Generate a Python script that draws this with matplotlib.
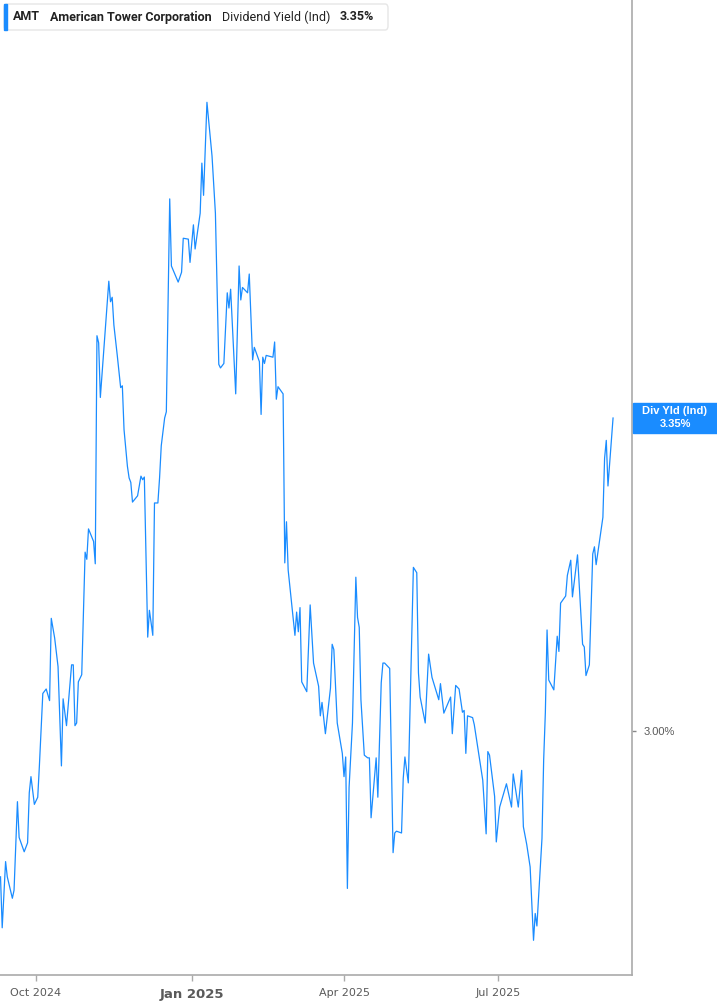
import matplotlib
matplotlib.use("Agg")
import matplotlib.pyplot as plt
from matplotlib.patches import FancyBboxPatch, Rectangle
import pandas as pd

# AMT dividend yield (Ind), %
dates = [
    "2024-09-10", "2024-09-11", "2024-09-13", "2024-09-14", "2024-09-17", "2024-09-18",
    "2024-09-20", "2024-09-21", "2024-09-24", "2024-09-26", "2024-09-27", "2024-09-28",
    "2024-09-30", "2024-10-02", "2024-10-03", "2024-10-05", "2024-10-07", "2024-10-09",
    "2024-10-10", "2024-10-12", "2024-10-14", "2024-10-16", "2024-10-17", "2024-10-19",
    "2024-10-22", "2024-10-23", "2024-10-24", "2024-10-25", "2024-10-26", "2024-10-28",
    "2024-10-30", "2024-10-31", "2024-11-01", "2024-11-04", "2024-11-05", "2024-11-06",
    "2024-11-07", "2024-11-08", "2024-11-13", "2024-11-14", "2024-11-15", "2024-11-16",
    "2024-11-18", "2024-11-20", "2024-11-21", "2024-11-22", "2024-11-24", "2024-11-25",
    "2024-11-26", "2024-11-27", "2024-11-30", "2024-12-02", "2024-12-03", "2024-12-04",
    "2024-12-06", "2024-12-07", "2024-12-09", "2024-12-10", "2024-12-12", "2024-12-13",
    "2024-12-14", "2024-12-16", "2024-12-17", "2024-12-19", "2024-12-20", "2024-12-24",
    "2024-12-26", "2024-12-27", "2024-12-30", "2024-12-31", "2025-01-02", "2025-01-03",
    "2025-01-06", "2025-01-07", "2025-01-08", "2025-01-10", "2025-01-13", "2025-01-15",
    "2025-01-17", "2025-01-18", "2025-01-20", "2025-01-22", "2025-01-23", "2025-01-24",
    "2025-01-27", "2025-01-29", "2025-01-30", "2025-01-31", "2025-02-03", "2025-02-04",
    "2025-02-06", "2025-02-07", "2025-02-10", "2025-02-11", "2025-02-12", "2025-02-13",
    "2025-02-14", "2025-02-18", "2025-02-19", "2025-02-20", "2025-02-21", "2025-02-24",
    "2025-02-25", "2025-02-26", "2025-02-27", "2025-03-03", "2025-03-04", "2025-03-05",
    "2025-03-06", "2025-03-07", "2025-03-10", "2025-03-12", "2025-03-14", "2025-03-17",
    "2025-03-18", "2025-03-19", "2025-03-21", "2025-03-24", "2025-03-25", "2025-03-26",
    "2025-03-28", "2025-03-31", "2025-04-01", "2025-04-02", "2025-04-03", "2025-04-04",
    "2025-04-06", "2025-04-08", "2025-04-09", "2025-04-10", "2025-04-11", "2025-04-13",
    "2025-04-15", "2025-04-16", "2025-04-17", "2025-04-20", "2025-04-21", "2025-04-23",
    "2025-04-24", "2025-04-25", "2025-04-28", "2025-04-30", "2025-05-01", "2025-05-02",
    "2025-05-05", "2025-05-06", "2025-05-07", "2025-05-09", "2025-05-12", "2025-05-14",
    "2025-05-15", "2025-05-16", "2025-05-19", "2025-05-21", "2025-05-23", "2025-05-27",
    "2025-05-28", "2025-05-30", "2025-06-01", "2025-06-03", "2025-06-04", "2025-06-06",
    "2025-06-08", "2025-06-10", "2025-06-11", "2025-06-12", "2025-06-13", "2025-06-16",
    "2025-06-17", "2025-06-19", "2025-06-22", "2025-06-24", "2025-06-25", "2025-06-26",
    "2025-06-29", "2025-06-30", "2025-07-02", "2025-07-06", "2025-07-09", "2025-07-10",
    "2025-07-13", "2025-07-15", "2025-07-16", "2025-07-18", "2025-07-20", "2025-07-22",
    "2025-07-23", "2025-07-24", "2025-07-27", "2025-07-28", "2025-07-29", "2025-07-30",
    "2025-07-31", "2025-08-03", "2025-08-05", "2025-08-06", "2025-08-07", "2025-08-10",
    "2025-08-11", "2025-08-13", "2025-08-14", "2025-08-17", "2025-08-20", "2025-08-21",
    "2025-08-22", "2025-08-24", "2025-08-26", "2025-08-27", "2025-08-28", "2025-09-01",
    "2025-09-02", "2025-09-03", "2025-09-04", "2025-09-07",
]
yields = [
    2.837, 2.780, 2.854, 2.837, 2.813, 2.822,
    2.921, 2.881, 2.865, 2.875, 2.931, 2.949,
    2.918, 2.926, 2.962, 3.042, 3.047, 3.034,
    3.126, 3.104, 3.072, 2.961, 3.036, 3.006,
    3.074, 3.074, 3.006, 3.009, 3.055, 3.063,
    3.200, 3.192, 3.226, 3.212, 3.187, 3.442,
    3.434, 3.373, 3.503, 3.480, 3.485, 3.454,
    3.420, 3.384, 3.386, 3.337, 3.296, 3.283,
    3.278, 3.256, 3.263, 3.285, 3.281, 3.284,
    3.105, 3.135, 3.107, 3.255, 3.255, 3.283,
    3.319, 3.350, 3.357, 3.595, 3.520, 3.502,
    3.513, 3.551, 3.550, 3.524, 3.566, 3.539,
    3.579, 3.635, 3.599, 3.703, 3.643, 3.579,
    3.410, 3.406, 3.411, 3.490, 3.473, 3.494,
    3.377, 3.520, 3.482, 3.496, 3.490, 3.511,
    3.415, 3.429, 3.413, 3.354, 3.418, 3.411,
    3.420, 3.418, 3.435, 3.371, 3.385, 3.377,
    3.188, 3.234, 3.180, 3.107, 3.133, 3.111,
    3.138, 3.055, 3.044, 3.141, 3.076, 3.050,
    3.017, 3.032, 2.997, 3.048, 3.097, 3.091,
    3.009, 2.975, 2.949, 2.971, 2.824, 2.937,
    3.009, 3.172, 3.127, 3.116, 3.035, 2.973,
    2.970, 2.970, 2.903, 2.970, 2.926, 3.054,
    3.076, 3.076, 3.070, 2.864, 2.886, 2.888,
    2.886, 2.947, 2.971, 2.942, 3.183, 3.177,
    3.065, 3.038, 3.009, 3.086, 3.060, 3.035,
    3.053, 3.020, 3.029, 3.038, 2.997, 3.051,
    3.047, 3.021, 3.023, 2.975, 3.017, 3.015,
    3.007, 2.982, 2.945, 2.885, 2.977, 2.973,
    2.927, 2.876, 2.915, 2.941, 2.915, 2.952,
    2.915, 2.956, 2.893, 2.873, 2.848, 2.766,
    2.796, 2.782, 2.880, 2.968, 3.021, 3.113,
    3.057, 3.046, 3.106, 3.089, 3.143, 3.151,
    3.174, 3.191, 3.150, 3.197, 3.097, 3.094,
    3.062, 3.074, 3.198, 3.206, 3.186, 3.239,
    3.305, 3.325, 3.274, 3.350,
]
tick_dates = ["2024-10-01", "2025-01-01", "2025-04-01", "2025-07-01"]
tick_labels = ["Oct 2024", "Jan 2025", "Apr 2025", "Jul 2025"]
last_value = 3.35

blue = "#1a8cff"
grey = "#5a5a5a"
W, H = 717, 1005

x = pd.to_datetime(dates)

fig = plt.figure(figsize=(W / 100, H / 100), dpi=100)
ax = fig.add_axes([0, 1 - 975 / H, 632 / W, 975 / H])
ax.plot(x, yields, color=blue, lw=0.9)

ax.set_ylim(2.7272, 3.8174)
ax.set_xlim(pd.Timestamp("2024-10-01") - pd.Timedelta(days=21.3),
            pd.Timestamp("2024-10-01") + pd.Timedelta(days=352.2))

for s in ["top", "left"]:
    ax.spines[s].set_visible(False)
for s in ["bottom", "right"]:
    ax.spines[s].set_color("#aaaaaa")
    ax.spines[s].set_linewidth(1.2)

ax.yaxis.tick_right()
ax.set_yticks([3.0])
ax.set_yticklabels(["3.00%"])
ax.tick_params(axis="y", length=3, width=1, color="#888888", pad=5,
               labelsize=8, labelcolor=grey)

ax.set_xticks(pd.to_datetime(tick_dates))
ax.set_xticklabels(tick_labels)
ax.tick_params(axis="x", length=4, width=1, color="#aaaaaa", pad=5,
               labelsize=8, labelcolor=grey)
for lab in ax.get_xticklabels():
    lab.set_family(["Liberation Sans Narrow", "DejaVu Sans"])
    if lab.get_text().startswith("Jan"):
        lab.set_fontweight("bold")
        lab.set_fontsize(9.5)
for lab in ax.get_yticklabels():
    lab.set_family(["Liberation Sans", "DejaVu Sans"])

# value box on the right axis
fig.patches.append(Rectangle((633 / W, 1 - 433 / H), 84 / W, 30 / H,
                             transform=fig.transFigure, color=blue, zorder=5))
fig.text(675 / W, 1 - 411 / H, "Div Yld (Ind)", color="white", fontsize=8,
         fontweight="bold", ha="center", va="center", family="Liberation Sans", zorder=6)
fig.text(675 / W, 1 - 424 / H, f"{last_value:.2f}%", color="white", fontsize=8,
         fontweight="bold", ha="center", va="center", family="Liberation Sans", zorder=6)

# header legend
fig.patches.append(FancyBboxPatch((4 / W, 1 - 30 / H), 384 / W, 26 / H,
                                  boxstyle="round,pad=0,rounding_size=0.004",
                                  transform=fig.transFigure, facecolor="white",
                                  edgecolor="#e6e6e6", lw=1, zorder=5))
fig.patches.append(Rectangle((4 / W, 1 - 30 / H), 3 / W, 26 / H,
                             transform=fig.transFigure, color=blue, zorder=6))
hy = 1 - 17 / H
fig.text(13 / W, hy, "AMT", fontsize=9, fontweight="bold", color="#222222",
         va="center", family="Roboto", zorder=7)
fig.text(50 / W, hy, "American Tower Corporation", fontsize=9, fontweight="bold",
         color="#222222", va="center", family="Roboto", zorder=7)
fig.text(222 / W, hy, "Dividend Yield (Ind)", fontsize=9, color="#222222",
         va="center", family="Roboto", zorder=7)
fig.text(340 / W, hy, f"{last_value:.2f}%", fontsize=9, fontweight="bold",
         color="#222222", va="center", family="Roboto", zorder=7)

fig.savefig("out.png", dpi=100)
